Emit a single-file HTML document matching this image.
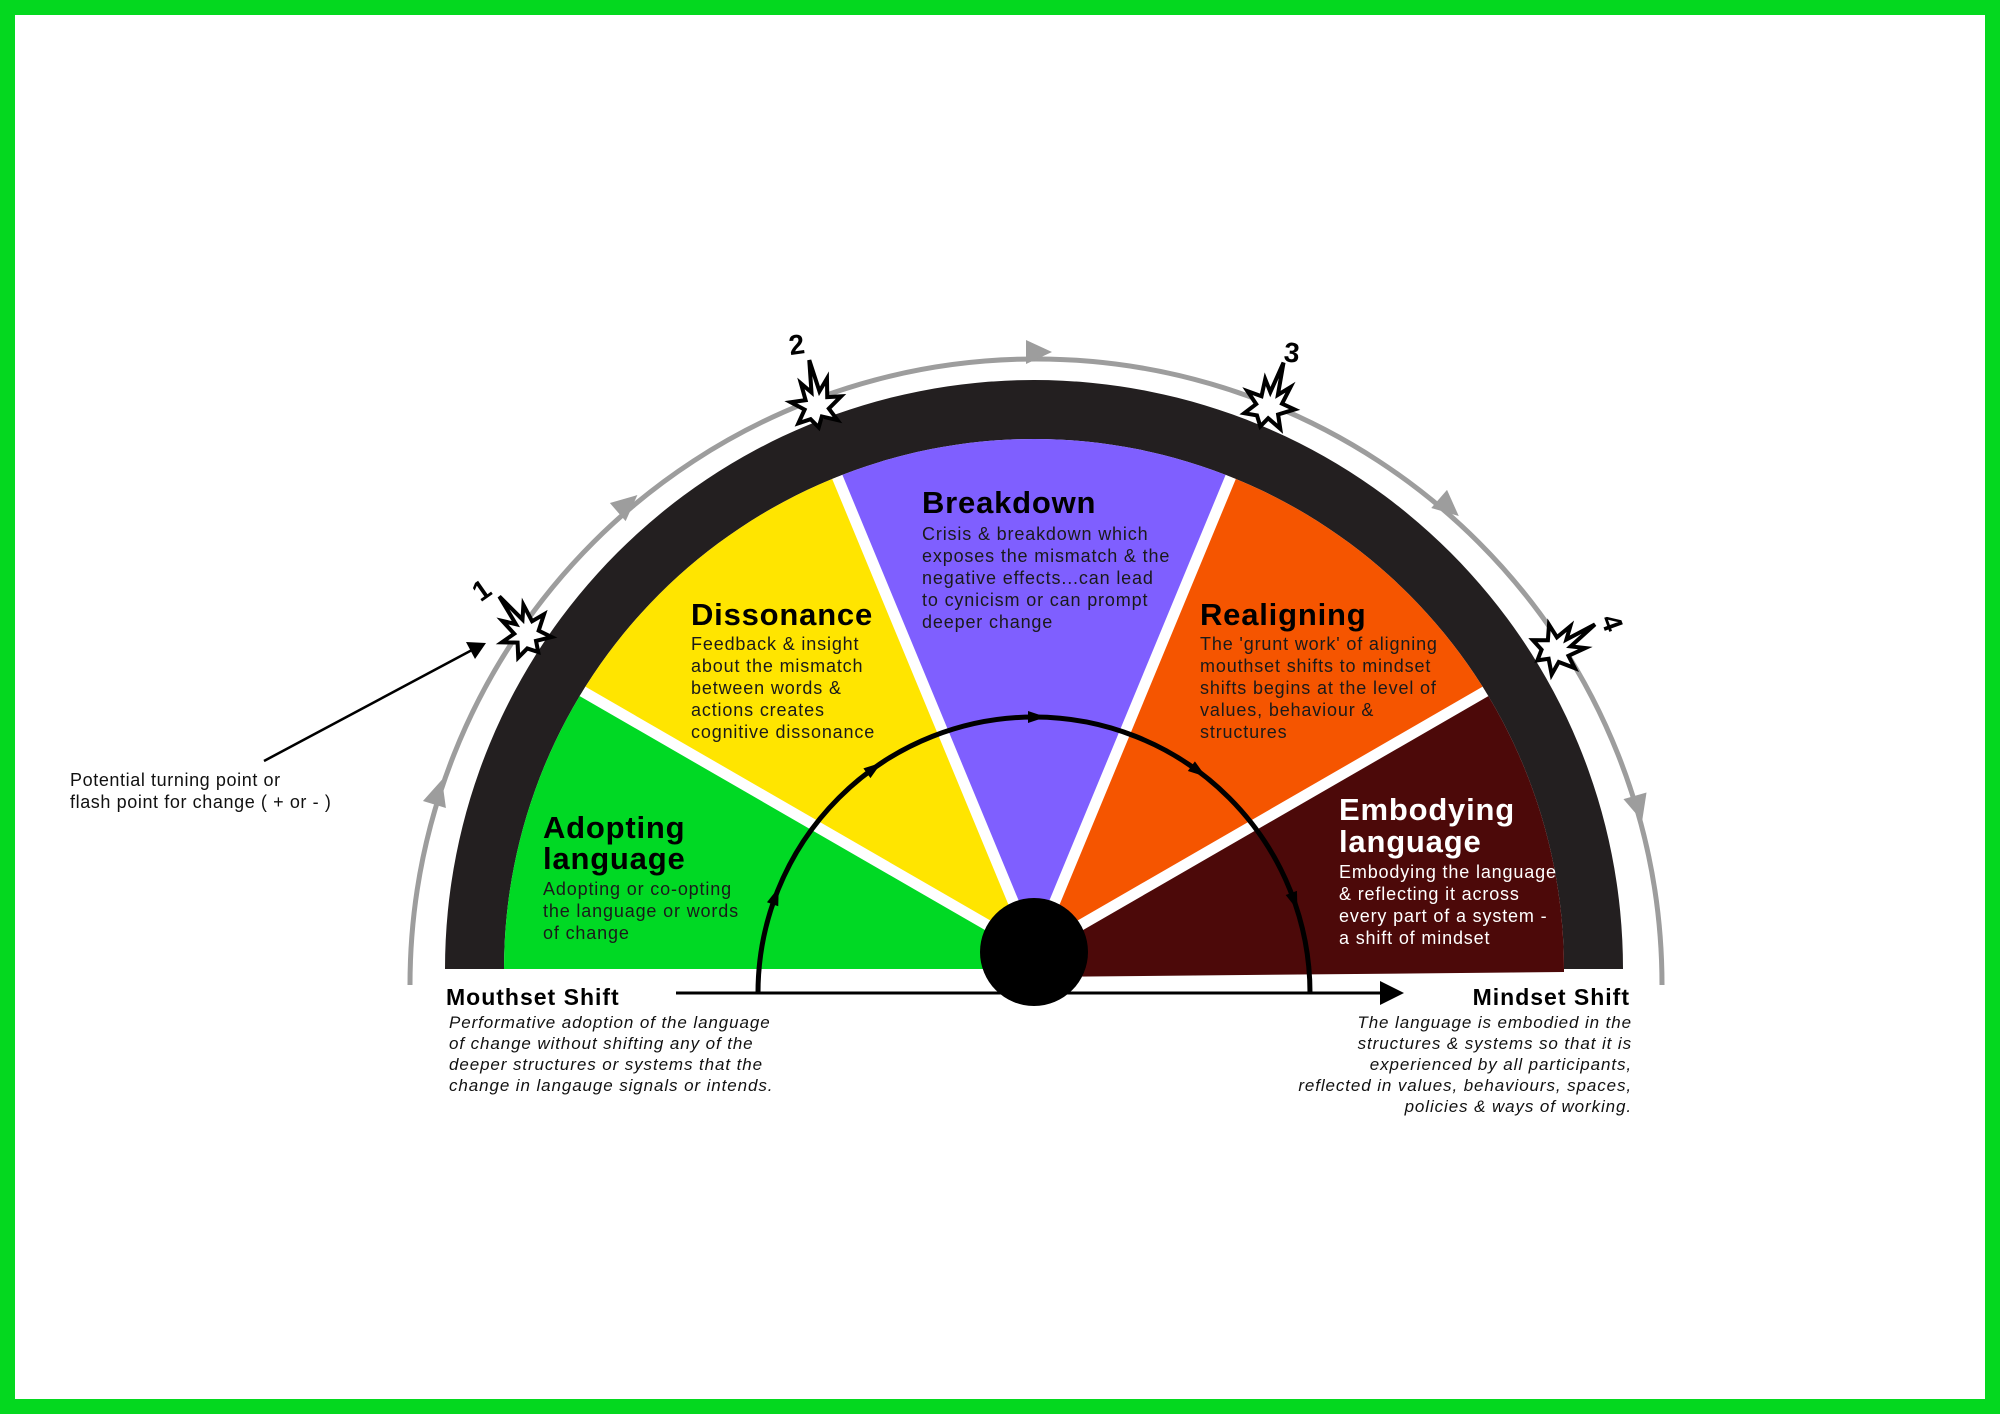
<!DOCTYPE html>
<html><head><meta charset="utf-8"><style>
html,body{margin:0;padding:0;background:#fff;}
svg{display:block;}
text{font-family:"Liberation Sans",sans-serif;}
</style></head><body>
<svg width="2000" height="1414" viewBox="0 0 2000 1414" xmlns="http://www.w3.org/2000/svg">
<rect x="0" y="0" width="2000" height="1414" fill="#fff"/>
<rect x="7.5" y="7.5" width="1985" height="1399" fill="none" stroke="#04d81f" stroke-width="15"/>
<defs>
<clipPath id="cp"><path d="M504,969 A530 530 0 0 1 1564,969 L1564,972 L1034,977 L1034,969 Z"/></clipPath>
</defs>
<!-- grey arc -->
<path d="M410,985 A626 626 0 0 1 1662,985" fill="none" stroke="#9d9d9d" stroke-width="5"/>
<g fill="#9d9d9d">
<g transform="translate(1036,978) rotate(-90)"><polygon points="614,-10 638,-10 626,16"/></g>
<g transform="translate(1036,978) rotate(-131)"><polygon points="614,-10 638,-10 626,16"/></g>
<g transform="translate(1036,978) rotate(-163)"><polygon points="614,-10 638,-10 626,16"/></g>
<g transform="translate(1036,978) rotate(-49)"><polygon points="614,-10 638,-10 626,16"/></g>
<g transform="translate(1036,978) rotate(-16)"><polygon points="614,-10 638,-10 626,16"/></g>
</g>
<!-- dark band -->
<path d="M445,969 A589 589 0 0 1 1623,969 L1564,969 A530 530 0 0 0 504,969 Z" fill="#231f20"/>
<!-- wedges -->
<g clip-path="url(#cp)">
<polygon points="1034,952 341,552 234,552 234,980 1034,980" fill="#00d924"/>
<polygon points="1034,952 341,552 728,213" fill="#ffe500"/>
<polygon points="1034,952 728,213 1340,213" fill="#7f5fff"/>
<polygon points="1034,952 1340,213 1727,552" fill="#f55500"/>
<polygon points="1034,952 1727,552 1834,552 1834,990 1034,990" fill="#4c0909"/>
<g stroke="#fff" stroke-width="11">
<line x1="1034" y1="952" x2="341" y2="552"/>
<line x1="1034" y1="952" x2="728" y2="213"/>
<line x1="1034" y1="952" x2="1340" y2="213"/>
<line x1="1034" y1="952" x2="1727" y2="552"/>
</g>
</g>
<!-- horizontal line -->
<line x1="676" y1="993" x2="1385" y2="993" stroke="#000" stroke-width="3"/>
<polygon points="1380,981 1404,993 1380,1005" fill="#000"/>
<!-- inner arc -->
<path d="M758,993 A276 276 0 0 1 1310,993" fill="none" stroke="#000" stroke-width="5"/>
<g fill="#000">
<g transform="translate(1034,993) rotate(-160)"><polygon points="270,-6 282,-6 276,12"/></g>
<g transform="translate(1034,993) rotate(-126)"><polygon points="270,-6 282,-6 276,12"/></g>
<g transform="translate(1034,993) rotate(-90)"><polygon points="270,-6 282,-6 276,12"/></g>
<g transform="translate(1034,993) rotate(-54)"><polygon points="270,-6 282,-6 276,12"/></g>
<g transform="translate(1034,993) rotate(-20)"><polygon points="270,-6 282,-6 276,12"/></g>
</g>
<circle cx="1034" cy="952" r="54" fill="#000"/>
<!-- starbursts -->
<g fill="#fff" stroke="#000" stroke-width="3.5" stroke-linejoin="miter">
<g transform="translate(527,636) rotate(-35) scale(1.15)"><polygon points="0,-42 5,-14 13,-24 11,-8 23,-7 11,2 17,13 4,8 0,17 -6,9 -17,11 -10,0 -21,-8 -8,-8 -10,-23 -2,-14"/></g>
<g transform="translate(816,408) rotate(-8) scale(1.15)"><polygon points="0,-42 5,-14 13,-24 11,-8 23,-7 11,2 17,13 4,8 0,17 -6,9 -17,11 -10,0 -21,-8 -8,-8 -10,-23 -2,-14"/></g>
<g transform="translate(1267,408) rotate(20) scale(1.15)"><polygon points="0,-42 5,-14 13,-24 11,-8 23,-7 11,2 17,13 4,8 0,17 -6,9 -17,11 -10,0 -21,-8 -8,-8 -10,-23 -2,-14"/></g>
<g transform="translate(1554,650) rotate(58) scale(1.15)"><polygon points="0,-42 5,-14 13,-24 11,-8 23,-7 11,2 17,13 4,8 0,17 -6,9 -17,11 -10,0 -21,-8 -8,-8 -10,-23 -2,-14"/></g>
</g>
<!-- numbers -->
<g font-weight="bold" font-size="28" fill="#000" text-anchor="middle">
<text transform="translate(487,598) rotate(-35)">1</text>
<text transform="translate(798,354) rotate(-8)">2</text>
<text transform="translate(1291,362) rotate(5)">3</text>
<text transform="translate(1603,626) rotate(70)">4</text>
</g>
<!-- pointer arrow -->
<line x1="264" y1="761" x2="472" y2="650" stroke="#000" stroke-width="2.5"/>
<polygon points="486,643 466,642 475,659" fill="#000"/>
<text font-size="18" fill="#111" letter-spacing="0.6"><tspan x="70" y="786">Potential turning point or</tspan><tspan x="70" y="808">flash point for change ( + or - )</tspan></text>
<!-- segment titles -->
<g font-weight="bold" font-size="31" fill="#000" letter-spacing="0.8">
<text x="922" y="513">Breakdown</text>
<text x="691" y="625">Dissonance</text>
<text x="1200" y="625">Realigning</text>
<text x="543" y="838">Adopting</text>
<text x="543" y="869">language</text>
<text x="1339" y="820" fill="#fff">Embodying</text>
<text x="1339" y="852" fill="#fff">language</text>
</g>
<g font-size="18" fill="#1a1a1a" letter-spacing="0.85">
<text><tspan x="922" y="540">Crisis &amp; breakdown which</tspan><tspan x="922" y="562">exposes the mismatch &amp; the</tspan><tspan x="922" y="584">negative effects...can lead</tspan><tspan x="922" y="606">to cynicism or can prompt</tspan><tspan x="922" y="628">deeper change</tspan></text>
<text><tspan x="691" y="650">Feedback &amp; insight</tspan><tspan x="691" y="672">about the mismatch</tspan><tspan x="691" y="694">between words &amp;</tspan><tspan x="691" y="716">actions creates</tspan><tspan x="691" y="738">cognitive dissonance</tspan></text>
<text><tspan x="1200" y="650">The 'grunt work' of aligning</tspan><tspan x="1200" y="672">mouthset shifts to mindset</tspan><tspan x="1200" y="694">shifts begins at the level of</tspan><tspan x="1200" y="716">values, behaviour &amp;</tspan><tspan x="1200" y="738">structures</tspan></text>
<text><tspan x="543" y="895">Adopting or co-opting</tspan><tspan x="543" y="917">the language or words</tspan><tspan x="543" y="939">of change</tspan></text>
<text fill="#fff"><tspan x="1339" y="878">Embodying the language</tspan><tspan x="1339" y="900">&amp; reflecting it across</tspan><tspan x="1339" y="922">every part of a system -</tspan><tspan x="1339" y="944">a shift of mindset</tspan></text>
</g>
<!-- bottom labels -->
<text x="446" y="1005" font-weight="bold" font-size="23" fill="#000" letter-spacing="1">Mouthset Shift</text>
<text font-size="17" font-style="italic" fill="#111" letter-spacing="0.9"><tspan x="449" y="1028">Performative adoption of the language</tspan><tspan x="449" y="1049">of change without shifting any of the</tspan><tspan x="449" y="1070">deeper structures or systems that the</tspan><tspan x="449" y="1091">change in langauge signals or intends.</tspan></text>
<text x="1630" y="1005" font-weight="bold" font-size="23" fill="#000" text-anchor="end" letter-spacing="1">Mindset Shift</text>
<text font-size="17" font-style="italic" fill="#111" text-anchor="end" letter-spacing="0.9"><tspan x="1632" y="1028">The language is embodied in the</tspan><tspan x="1632" y="1049">structures &amp; systems so that it is</tspan><tspan x="1632" y="1070">experienced by all participants,</tspan><tspan x="1632" y="1091">reflected in values, behaviours, spaces,</tspan><tspan x="1632" y="1112">policies &amp; ways of working.</tspan></text>
</svg>
</body></html>
